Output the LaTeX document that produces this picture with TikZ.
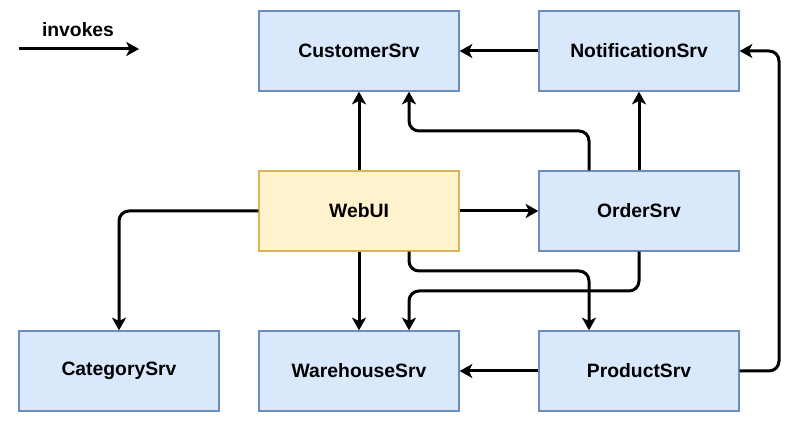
\documentclass[tikz,border=0pt]{standalone}
\usepackage{fontspec}
\setmainfont{Liberation Sans}
\usetikzlibrary{arrows.meta}
\definecolor{bfill}{HTML}{DAE8FC}
\definecolor{bdraw}{HTML}{6C8EBF}
\definecolor{yfill}{HTML}{FFF2CC}
\definecolor{ydraw}{HTML}{D6B656}
\tikzset{
  srv/.style={draw=bdraw, fill=bfill, line width=1pt, minimum width=150pt, minimum height=60pt, inner sep=0pt, font=\fontsize{14.5pt}{17pt}\selectfont\bfseries},
  ui/.style={srv, draw=ydraw, fill=yfill},
  conn/.style={line width=2.25pt, rounded corners=7.5pt, -{Stealth[length=9.5pt, width=10.5pt, inset=2.5pt]}},
  lbl/.style={font=\fontsize{14.5pt}{17pt}\selectfont\bfseries, inner sep=0pt}
}
\begin{document}
\begin{tikzpicture}[x=0.75pt, y=-0.75pt]
\useasboundingbox (0,0) rectangle (799,423);
\node[srv] (cust) at (359,51) {CustomerSrv};
\node[srv] (notif) at (639,51) {NotificationSrv};
\node[ui] (web) at (359,211) {WebUI};
\node[srv] (order) at (639,211) {OrderSrv};
\node[srv] (cat) at (119,371) {CategorySrv};
\node[srv] (ware) at (359,371) {WarehouseSrv};
\node[srv] (prod) at (639,371) {ProductSrv};
% legend
\node[lbl] (leg) at (78,30) {invokes};
\coordinate (l1) at (19,49);
\coordinate (l2) at (139,49);
\draw[conn] (l1) -- (l2);
% connectors
\draw[conn] (web.north) -- (cust.south);
\draw[conn] (notif.west) -- (cust.east);
\draw[conn] ([xshift=-37.5pt]order.north) |- (409,131) -- ([xshift=37.5pt]cust.south);
\draw[conn] (order.north) -- (notif.south);
\draw[conn] (web.east) -- (order.west);
\draw[conn] (web.west) -| (cat.north);
\draw[conn] (web.south) -- (ware.north);
\draw[conn] ([xshift=37.5pt]web.south) |- (589,271) -- ([xshift=-37.5pt]prod.north);
\draw[conn] (order.south) |- (409,291) -- ([xshift=37.5pt]ware.north);
\draw[conn] (prod.west) -- (ware.east);
\draw[conn] (prod.east) -| (779,51) -- (notif.east);
\end{tikzpicture}
\end{document}
